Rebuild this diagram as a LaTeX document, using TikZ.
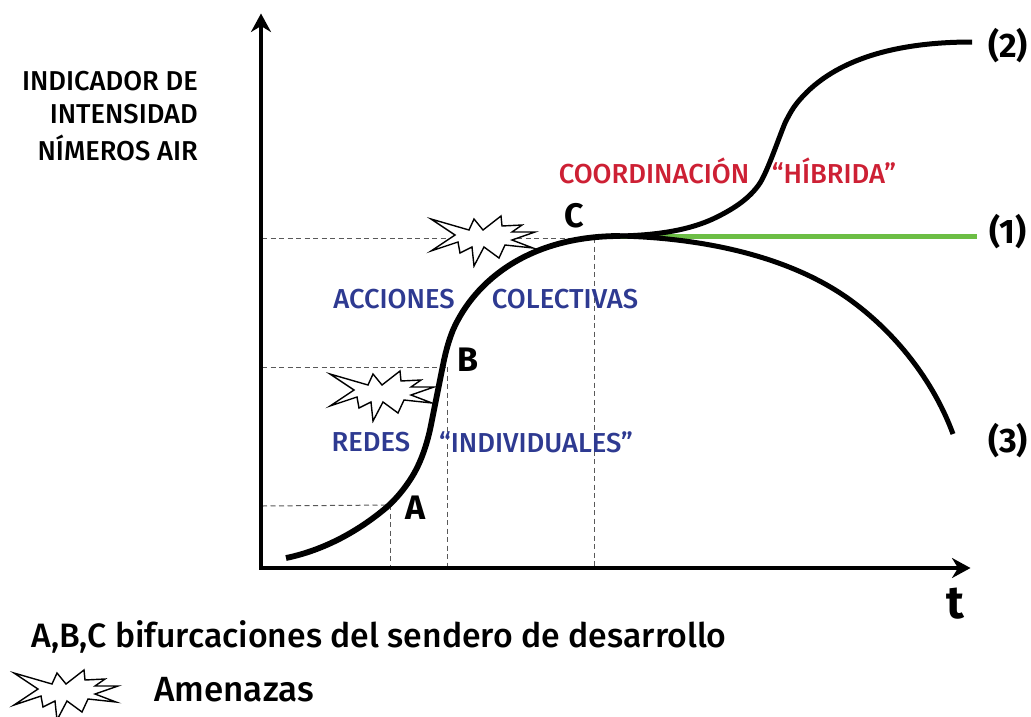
\documentclass[tikz,border=0pt]{standalone}
\usepackage{fontspec}
\setmainfont{Fira Sans}
\newfontfamily\medfont{Fira Sans Medium}
\usetikzlibrary{arrows.meta}
\definecolor{lblblue}{RGB}{46,58,145}
\definecolor{lblred}{RGB}{205,32,52}
\definecolor{lblgreen}{RGB}{108,190,69}
\tikzset{
  x=1pt,y=-1pt,
  axisline/.style={line width=3.6pt,-{Stealth[length=18.5pt,width=20pt,inset=6pt]}},
  curveline/.style={line width=5.8pt},
  branchline/.style={line width=5pt},
  guide/.style={line width=1pt,black!65,dash pattern=on 5pt off 3.5pt},
  boldlbl/.style={inner sep=0pt,font=\fontsize{34}{34}\selectfont\bfseries},
  grouplbl/.style={inner sep=0pt,font=\fontsize{27.4}{27.4}\selectfont\medfont},
  ylbl/.style={inner sep=0pt,anchor=east,font=\fontsize{27.3}{27.3}\selectfont\medfont},
  legendlbl/.style={inner sep=0pt,anchor=west,font=\fontsize{33.8}{33.8}\selectfont\medfont},
  legendbig/.style={inner sep=0pt,anchor=west,font=\fontsize{35}{35}\selectfont\medfont},
  burst/.pic={
    \draw[line width=1.4pt,fill=white,miter limit=8]
      (1,1)--(39,12)--(44,1)--(53,12)--(71,-2)--(72,8)--(92,7)--(82,14)--(105,14)--(82,22)--(103,30)--(75,27)--(69,40)--(54,29)--(44,48)--(42,29)--(30,35)--(28,24)--(1,33)--(25,17)--cycle;
  }
}
\begin{document}
\begin{tikzpicture}
\useasboundingbox (0,0) rectangle (1031,716);
\coordinate (O) at (261,568);
\coordinate (Ytop) at (261,13.5);
\coordinate (Xend) at (970.5,568);
\coordinate (P0) at (286,558);
\coordinate (Apt) at (390,505);
\coordinate (Bpt) at (443,367);
\coordinate (Cpt) at (594,238);
\coordinate (Fork) at (620,236);
\coordinate (E1) at (977,236);
\coordinate (E2) at (972,42);
\coordinate (E3) at (953,434);
\coordinate (Ax) at (390,568);
\coordinate (Bx) at (447,568);
\coordinate (Bc) at (447,367);
\coordinate (Cx) at (594,568);
\coordinate (Ay) at (262,506);
\coordinate (By) at (262,367);
\coordinate (Cy) at (262,238);
% guides
\draw[guide] (Ay)--(Apt);
\draw[guide] (By)--(Bc);
\draw[guide] (Cy)--(Cpt);
\draw[guide] (Apt)--(Ax);
\draw[guide] (Bc)--(Bx);
\draw[guide] (Cpt)--(Cx);
% bursts
\pic at (430,218) {burst};
\pic at (329,373) {burst};
\pic at (13,672) {burst};
% axes
\draw[axisline] (259.2,568)--(Xend);
\draw[axisline] (O)--(Ytop);
% curves
\draw[lblgreen,line width=5pt] (Fork)--(E1);
\draw[curveline] (P0) .. controls (325,550) and (360,530) .. (387,507)
  .. controls (397,498) and (404,489) .. (410,480)
  .. controls (422,462) and (428,440) .. (431,425)
  .. controls (436,400) and (439,385) .. (443,365)
  .. controls (446,350) and (449,340) .. (453,330)
  .. controls (475,280) and (530,236) .. (Fork);
\draw[branchline] (Fork) .. controls (665,235) and (695,228) .. (717,217)
  .. controls (735,208) and (750,198) .. (760,183)
  .. controls (768,170) and (778,140) .. (785,123)
  .. controls (790,113) and (793,108) .. (797,103)
  .. controls (830,62) and (890,42) .. (E2);
\draw[branchline] (Fork) .. controls (700,238) and (790,255) .. (853,302)
  .. controls (900,337) and (935,385) .. (E3);
% labels
\node[ylbl] (y1) at (198,81) {INDICADOR DE};
\node[ylbl] (y2) at (198,114) {INTENSIDAD};
\node[ylbl] (y3) at (198,148) {NÍMEROS AIR};
\node[boldlbl] (la) at (416,508) {A};
\node[boldlbl] (lb) at (468,360) {B};
\node[boldlbl] (lc) at (574,216) {C};
\node[boldlbl] (l1) at (1008,232) {(1)};
\node[boldlbl] (l2) at (1008,46) {(2)};
\node[boldlbl] (l3) at (1008,441) {(3)};
\node[grouplbl,text=lblblue] (g1) at (394,299) {ACCIONES};
\node[grouplbl,text=lblblue] (g2) at (565,299) {COLECTIVAS};
\node[grouplbl,text=lblblue] (g3) at (371,442) {REDES};
\node[grouplbl,text=lblblue] (g4) at (536,442) {“INDIVIDUALES”};
\node[grouplbl,text=lblred] (g5) at (654,171) {COORDINACIÓN};
\node[grouplbl,text=lblred] (g6) at (834,171) {“HÍBRIDA”};
\node[inner sep=0pt,font=\fontsize{46}{46}\selectfont\bfseries] (t) at (955,604) {t};
\node[legendlbl] (leg1) at (31,637) {A,B,C bifurcaciones del sendero de desarrollo};
\node[legendbig] (leg2) at (154,690) {Amenazas};
\end{tikzpicture}
\end{document}
